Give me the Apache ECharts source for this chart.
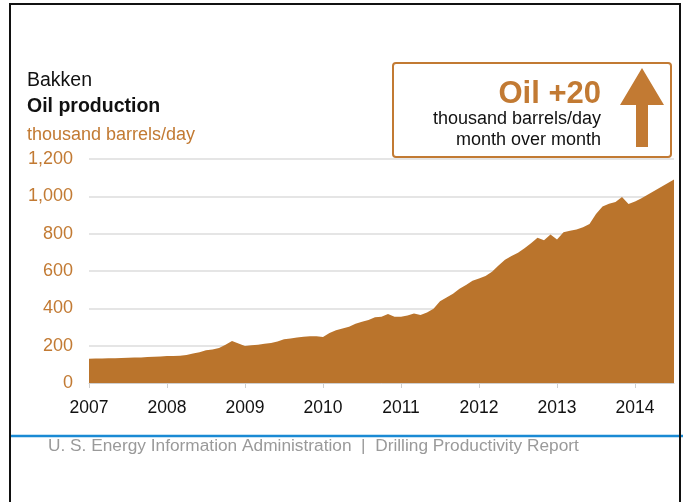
<!DOCTYPE html>
<html>
<head>
<meta charset="utf-8">
<title>Bakken oil production</title>
<script src="https://cdn.jsdelivr.net/npm/echarts@6/dist/echarts.min.js"></script>
<style>
    html, body { margin: 0; padding: 0; background: #fff; }
    #chart { width: 683px; height: 502px; }
</style>
</head>
<body>
<div id="chart"></div>
<script>
    // monthly production, Jan 2007 .. Jul 2014 (thousand barrels/day)
    const startYear = 2007
    const production = [
        130, 131, 131, 132, 133, 134, 135, 136, 137, 139, 141, 142,
        144, 145, 146, 150, 158, 165, 175, 180, 188, 205, 225, 212,
        198, 202, 205, 210, 214, 222, 234, 238, 244, 248, 251, 250,
        247, 268, 282, 292, 302, 318, 328, 337, 352, 355, 370, 355,
        355, 362, 372, 364, 378, 398, 438, 458, 478, 505, 525, 548,
        560, 573, 596, 630, 660, 680, 698, 722, 748, 778, 765, 796,
        769, 808, 815, 822, 835, 852, 906, 945, 960, 970, 996, 959,
        972, 990, 1010, 1030, 1050, 1070, 1090
    ]
    const yTicks = [0, 200, 400, 600, 800, 1000, 1200]

    const months = production.map((v, i) => {
        const y = startYear + Math.floor(i / 12)
        const m = (i % 12) + 1
        return y + '-' + (m < 10 ? '0' + m : m)
    })

    const orange = '#c27a33'
    const fill = '#ba742c'
    const font = '"Liberation Sans", Arial, sans-serif'

    const myChart = echarts.init(document.getElementById('chart'))
    const option = {
        backgroundColor: '#fff',
        animation: false,
        grid: {
            left: 89,
            right: 9,
            top: 159,
            bottom: 119
        },
        xAxis: {
            type: 'category',
            data: months,
            boundaryGap: false,
            axisLine: { lineStyle: { color: '#cfcfcf' } },
            axisTick: {
                interval: (i) => i % 12 === 0,
                length: 5,
                lineStyle: { color: '#cfcfcf' }
            },
            axisLabel: {
                interval: (i) => i % 12 === 0,
                formatter: (v) => v.slice(0, 4),
                color: '#111',
                fontSize: 17.5,
                fontFamily: font,
                margin: 16
            },
            splitLine: { show: false }
        },
        yAxis: {
            type: 'value',
            min: yTicks[0],
            max: yTicks[yTicks.length - 1],
            interval: 200,
            axisLine: { show: false },
            axisTick: { show: false },
            axisLabel: {
                color: orange,
                fontSize: 18,
                fontFamily: font,
                margin: 16,
                formatter: (v) => v.toLocaleString('en-US')
            },
            splitLine: { lineStyle: { color: '#dcdcdc', width: 1.5 } }
        },
        series: [{
            type: 'line',
            data: production,
            symbol: 'none',
            lineStyle: { width: 0 },
            itemStyle: { color: fill },
            areaStyle: { color: fill, opacity: 1 }
        }],
        graphic: [
            // frame
            {
                type: 'rect', silent: true, z: 100,
                shape: { x: 10, y: 4, width: 670, height: 530 },
                style: { fill: 'none', stroke: '#111', lineWidth: 2 }
            },
            {
                type: 'text', left: 27, top: 71,
                style: { text: 'Bakken', fill: '#111', font: '19.5px ' + font }
            },
            {
                type: 'text', left: 27, top: 97,
                style: { text: 'Oil production', fill: '#111', font: 'bold 19.5px ' + font }
            },
            {
                type: 'text', left: 27, top: 126,
                style: { text: 'thousand barrels/day', fill: orange, font: '18px ' + font }
            },
            // callout box
            {
                type: 'rect',
                shape: { x: 393, y: 63, width: 278, height: 94, r: 3 },
                style: { fill: '#fff', stroke: orange, lineWidth: 2 }
            },
            {
                type: 'text', x: 601, y: 94,
                style: {
                    text: 'Oil +20', fill: orange, font: 'bold 31px ' + font,
                    textAlign: 'right', textVerticalAlign: 'middle'
                }
            },
            {
                type: 'text', x: 601, y: 119,
                style: {
                    text: 'thousand barrels/day', fill: '#111', font: '18px ' + font,
                    textAlign: 'right', textVerticalAlign: 'middle'
                }
            },
            {
                type: 'text', x: 601, y: 140,
                style: {
                    text: 'month over month', fill: '#111', font: '18px ' + font,
                    textAlign: 'right', textVerticalAlign: 'middle'
                }
            },
            {
                type: 'polygon',
                shape: {
                    points: [[642, 68], [664, 105], [648, 105], [648, 147],
                             [636, 147], [636, 105], [620, 105]]
                },
                style: { fill: orange }
            },
            // footer
            {
                type: 'line',
                shape: { x1: 10, y1: 436, x2: 683, y2: 436 },
                style: { stroke: '#1a8ad4', lineWidth: 2.5 }
            },
            {
                type: 'text', left: 48, top: 438,
                style: {
                    text: 'U. S. Energy Information Administration  |  Drilling Productivity Report',
                    fill: '#9a9a9a', font: '17.3px ' + font
                }
            }
        ]
    }
    myChart.setOption(option)
</script>
</body>
</html>
